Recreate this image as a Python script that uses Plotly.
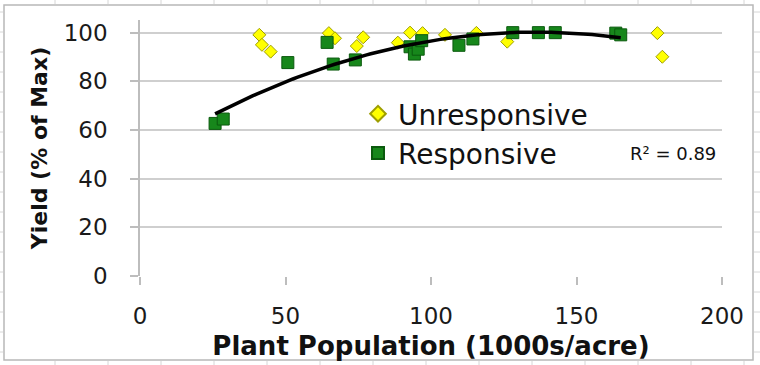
import numpy as np
import plotly.graph_objects as go

# Data
unresp_pop = [41.0, 41.9, 44.9, 64.9, 67.0, 74.5, 76.7, 88.6, 92.8, 97.1, 104.8, 115.6, 126.2, 177.8, 179.5]
unresp_yield = [99.1, 95.0, 92.2, 99.8, 97.7, 94.5, 98.1, 95.9, 100.0, 99.8, 99.1, 99.9, 96.3, 99.8, 90.1]

resp_pop = [25.8, 28.6, 50.8, 64.3, 66.4, 74.0, 92.8, 94.3, 95.6, 96.8, 109.6, 114.4, 128.1, 136.9, 142.7, 163.5, 165.2]
resp_yield = [62.7, 64.5, 87.7, 96.0, 87.1, 88.8, 94.2, 91.2, 93.2, 96.7, 94.8, 97.4, 100.0, 100.0, 100.0, 99.8, 99.1]

x_ticks = [0, 50, 100, 150, 200]
y_ticks = [0, 20, 40, 60, 80, 100]
r2_label = "R² = 0.89"

# Polynomial (order 2) trendline through the responsive series
coef = np.polyfit(resp_pop, resp_yield, 2)
tx = np.linspace(min(resp_pop), max(resp_pop), 100)
ty = np.polyval(coef, tx)

FONT = "DejaVu Sans"

fig = go.Figure()
fig.add_trace(go.Scatter(
    x=unresp_pop, y=unresp_yield, mode="markers", name="Unresponsive",
    marker=dict(symbol="diamond", size=10, color="#FFFF00",
                line=dict(color="#9E9E00", width=1)),
))
fig.add_trace(go.Scatter(
    x=resp_pop, y=resp_yield, mode="markers", name="Responsive",
    marker=dict(symbol="square", size=12, color="#17871B",
                line=dict(color="#0B5A0E", width=1)),
))
fig.add_trace(go.Scatter(
    x=tx, y=ty, mode="lines", showlegend=False,
    line=dict(color="#000000", width=3.5), hoverinfo="skip",
))

W, H = 760, 365
L, R, T, B = 140, 38, 20, 89
pw, ph = W - L - R, H - T - B


def px_to_paper(px, py):
    return (px - L) / pw, (H - B - py) / ph


shapes = []
# chart border (Excel chart area)
x0, y0 = px_to_paper(4, 360)
x1, y1 = px_to_paper(753, 5)
shapes.append(dict(type="rect", xref="paper", yref="paper", x0=x0, y0=y0, x1=x1, y1=y1,
                   line=dict(color="#B8B8B8", width=1.5), layer="below"))
# faint spreadsheet cell lines outside the chart
cell = "#D6D6D6"
for cx in range(55, 760, 53):
    a, _ = px_to_paper(cx, 0)
    _, ta = px_to_paper(0, 0)
    _, tb = px_to_paper(0, 4)
    _, ba = px_to_paper(0, 361)
    _, bb = px_to_paper(0, 365)
    shapes.append(dict(type="line", xref="paper", yref="paper", x0=a, x1=a, y0=ta, y1=tb,
                       line=dict(color=cell, width=1)))
    shapes.append(dict(type="line", xref="paper", yref="paper", x0=a, x1=a, y0=ba, y1=bb,
                       line=dict(color=cell, width=1)))
for cy in range(12, 365, 20):
    _, yy = px_to_paper(0, cy)
    la, _ = px_to_paper(0, 0)
    lb, _ = px_to_paper(3, 0)
    ra, _ = px_to_paper(754, 0)
    rb, _ = px_to_paper(760, 0)
    shapes.append(dict(type="line", xref="paper", yref="paper", x0=la, x1=lb, y0=yy, y1=yy,
                       line=dict(color=cell, width=1)))
    shapes.append(dict(type="line", xref="paper", yref="paper", x0=ra, x1=rb, y0=yy, y1=yy,
                       line=dict(color=cell, width=1)))

lx, ly = px_to_paper(358, 89)

fig.update_layout(
    width=W, height=H,
    margin=dict(l=L, r=R, t=T, b=B, autoexpand=False),
    paper_bgcolor="white", plot_bgcolor="white",
    font=dict(family=FONT, color="#1a1a1a"),
    showlegend=True,
    legend=dict(x=lx, y=ly, xanchor="left", yanchor="top",
                font=dict(size=28, family=FONT, color="#111111"),
                bgcolor="rgba(0,0,0,0)", borderwidth=0,
                tracegroupgap=0, itemsizing="constant"),
    xaxis=dict(range=[0, 200], tickvals=x_ticks, showgrid=False, zeroline=False,
               showline=False, ticks="outside", ticklen=8, tickcolor="#BDBDBD", tickwidth=1.5,
               automargin=False,
               tickfont=dict(size=23, family=FONT, color="#1a1a1a"),
               ticklabelstandoff=11,
               title=dict(text="<b>Plant Population (1000s/acre)</b>",
                          font=dict(size=26, family=FONT, color="#111111"), standoff=9)),
    yaxis=dict(range=[0, 105.2], tickvals=y_ticks, showgrid=True, gridcolor="#CFCFCF",
               gridwidth=1.5, zeroline=False, showline=True, linecolor="#BDBDBD", linewidth=1.5,
               ticks="outside", ticklen=8, tickcolor="#BDBDBD", tickwidth=1.5,
               automargin=False,
               tickfont=dict(size=23, family=FONT, color="#1a1a1a"),
               ticklabelstandoff=18,
               title=dict(text="<b>Yield (% of Max)</b>",
                          font=dict(size=22, family=FONT, color="#111111"), standoff=10)),
    shapes=shapes,
    annotations=[dict(x=px_to_paper(673, 0)[0], y=px_to_paper(0, 153)[1], xref="paper", yref="paper",
                      text=r2_label, showarrow=False, xanchor="center", yanchor="middle",
                      font=dict(size=18, family=FONT, color="#111111"))],
)

fig.write_html("out.html", config={"displayModeBar": False},
               post_script="document.body.style.margin='0';document.body.style.overflow='hidden';")
